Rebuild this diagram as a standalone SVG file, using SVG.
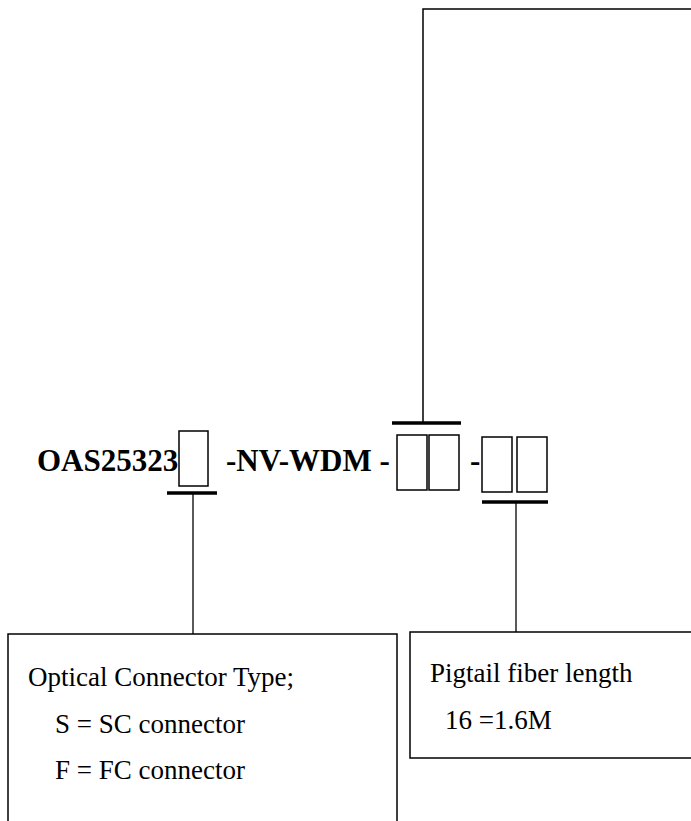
<svg xmlns="http://www.w3.org/2000/svg" width="691" height="821" viewBox="0 0 691 821">
<style>
.bx{fill:#fff;stroke:#000;stroke-width:1.5}
.sl{fill:none;stroke:#000;stroke-width:1.5}
.bar{stroke:#000;stroke-width:3.5}
.ln{stroke:#000;stroke-width:1.3}
.code{font-family:"Liberation Serif",serif;font-weight:bold;font-size:31px;fill:#000}
.lab{font-family:"Liberation Serif",serif;font-size:27px;fill:#000}
</style>
<rect width="691" height="821" fill="#fff"/>
<g id="connectors">
<polyline class="sl" points="423,423 423,9 700,9"/>
<line class="ln" x1="193" y1="493" x2="193" y2="634"/>
<line class="ln" x1="516" y1="502" x2="516" y2="632"/>
<line class="bar" x1="167" y1="493" x2="217" y2="493"/>
<line class="bar" x1="392" y1="423" x2="461" y2="423"/>
<line class="bar" x1="482" y1="502" x2="548" y2="502"/>
</g>
<g id="code">
<text class="code" x="37" y="471">OAS25323</text>
<rect class="bx" x="179" y="431" width="29" height="55"/>
<text class="code" x="226" y="471">-NV-WDM -</text>
<rect class="bx" x="397" y="435" width="30" height="55"/>
<rect class="bx" x="429" y="435" width="30" height="55"/>
<text class="code" x="470" y="471">-</text>
<rect class="bx" x="482" y="437" width="30" height="55"/>
<rect class="bx" x="517" y="437" width="30" height="55"/>
</g>
<g id="connector-type">
<rect class="bx" x="8" y="634" width="389" height="200"/>
<text class="lab" x="28" y="686">Optical Connector Type;</text>
<text class="lab" x="55" y="733">S = SC connector</text>
<text class="lab" x="55" y="779">F = FC connector</text>
</g>
<g id="pigtail-length">
<rect class="bx" x="410" y="632" width="300" height="126"/>
<text class="lab" x="430" y="682">Pigtail fiber length</text>
<text class="lab" x="445" y="729">16 =1.6M</text>
</g>
</svg>
